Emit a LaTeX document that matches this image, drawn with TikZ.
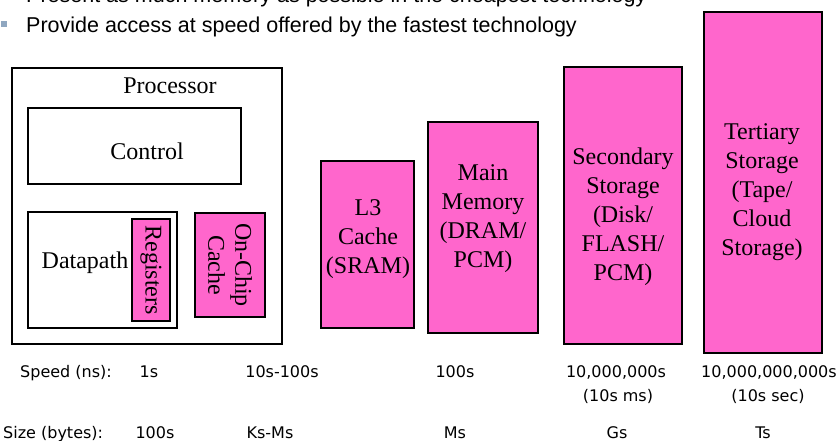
\documentclass[tikz,border=0pt]{standalone}
\usepackage{fontspec}
\setmainfont{Liberation Serif}
\newfontfamily\bulletfont{Liberation Sans}
\newfontfamily\notefont{DejaVu Sans}
\usetikzlibrary{backgrounds}
\definecolor{boxpink}{RGB}{255,102,204}
\definecolor{bulletblue}{RGB}{143,167,192}

\begin{document}
\begin{tikzpicture}[x=1pt,y=-1pt,
  frame/.style={draw=black, line width=2.6pt, rectangle, inner sep=0pt},
  membox/.style={frame, fill=boxpink},
  boxtext/.style={font=\fontsize{24}{29}\selectfont, align=center, inner sep=0pt},
  note/.style={font=\notefont\fontsize{16}{19}\selectfont, inner sep=0pt, anchor=base},
  bullettext/.style={font=\bulletfont\fontsize{21.5}{25}\selectfont, anchor=base west, inner sep=0pt},
  bulletmark/.style={fill=bulletblue, minimum size=6pt, inner sep=0pt},
  zoomline/.style={line width=0.9pt}
]
\fill[white] (0,0) rectangle (836,441);
\useasboundingbox (0,0) rectangle (836,441);
\clip (0,0) rectangle (836,441);

% bullet points
\node[bulletmark] (b1) at (4,-6) {};
\node[bullettext] (t1) at (26,3) {Present as much memory as possible in the cheapest technology};
\node[bulletmark] (b2) at (4,24) {};
\node[bullettext] (t2) at (26,33) {Provide access at speed offered by the fastest technology};

% processor
\node[frame, minimum width=270pt, minimum height=276pt] (proc) at (147,206) {};
\node[boxtext, anchor=base] (proctext) at (170,94) {Processor};
\node[frame, minimum width=213pt, minimum height=76pt] (ctrl) at (134.5,146) {};
\node[boxtext, anchor=base] (ctrltext) at (147,160) {Control};
\node[frame, minimum width=149pt, minimum height=116pt] (dp) at (102.5,270) {};
\node[boxtext, anchor=base] (dptext) at (85,268) {Datapath};
\node[membox, minimum width=38pt, minimum height=102pt] (regs) at (151,270) {};
\node[boxtext, rotate=-90] (regstext) at (151,270) {Registers};
\node[membox, minimum width=70pt, minimum height=104pt] (onchip) at (230,265) {};
\node[boxtext, rotate=-90, font=\fontsize{24}{27}\selectfont] (onchiptext) at (230,265) {On-Chip\\Cache};

% memory levels
\node[membox, minimum width=93pt, minimum height=167pt] (l3) at (367.5,244.5) {};
\node[boxtext] (l3text) at (368,239) {L3\\Cache\\(SRAM)};
\node[membox, minimum width=110pt, minimum height=211pt] (mem) at (483,227.5) {};
\node[boxtext] (memtext) at (483,219) {Main\\Memory\\(DRAM/\\PCM)};
\node[membox, minimum width=118pt, minimum height=277pt] (sec) at (623,205.5) {};
\node[boxtext] (sectext) at (623,217) {Secondary\\Storage\\(Disk/\\FLASH/\\PCM)};
\node[membox, minimum width=118pt, minimum height=341pt] (tert) at (763,182.5) {};
\node[boxtext] (terttext) at (762,192.5) {Tertiary\\Storage\\(Tape/\\Cloud\\Storage)};

% widening hierarchy outline
\begin{pgfonlayer}{background}
\draw[zoomline] (regs.north east) -- (tert.north west);
\draw[zoomline] (regs.south east) -- (tert.south west);
\end{pgfonlayer}

% speed row
\node[note, anchor=base west] (speedlbl) at (20,377) {Speed (ns):};
\node[note] (sp1) at (149,377) {1s};
\node[note] (sp2) at (282,377) {10s-100s};
\node[note] (sp3) at (455,377) {100s};
\node[note] (sp4) at (616,377) {10,000,000s};
\node[note] (sp4b) at (618,401) {(10s ms)};
\node[note] (sp5) at (769,377) {10,000,000,000s};
\node[note] (sp5b) at (768,401) {(10s sec)};

% size row
\node[note, anchor=base west] (sizelbl) at (3,438) {Size (bytes):};
\node[note] (sz1) at (155,438) {100s};
\node[note] (sz2) at (270,438) {Ks-Ms};
\node[note] (sz3) at (455,438) {Ms};
\node[note] (sz4) at (617,438) {Gs};
\node[note] (sz5) at (763,438) {Ts};
\end{tikzpicture}
\end{document}
